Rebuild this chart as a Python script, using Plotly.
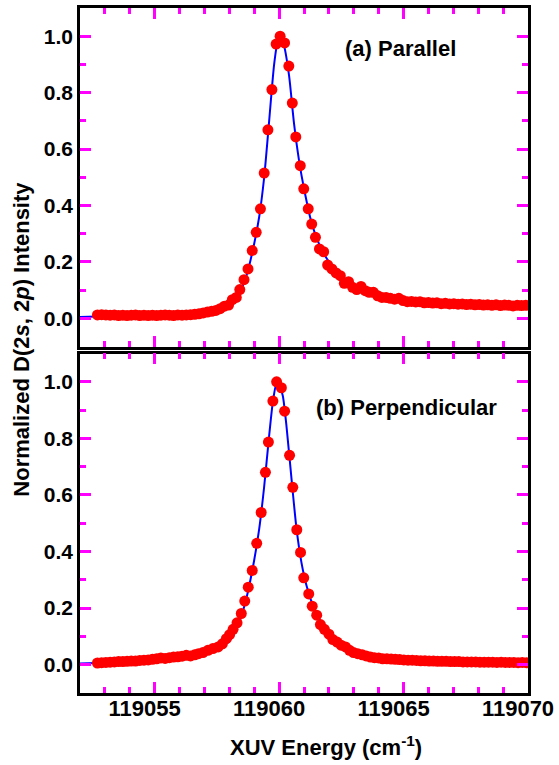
import plotly.graph_objects as go

# ---------------- data ----------------
# (a) Parallel : measured points
xa = [119052.70, 119052.87, 119053.04, 119053.21, 119053.38, 119053.55, 119053.72, 119053.89,
      119054.06, 119054.23, 119054.40, 119054.57, 119054.74, 119054.91, 119055.08, 119055.25,
      119055.42, 119055.59, 119055.76, 119055.93, 119056.10, 119056.27, 119056.44, 119056.61,
      119056.78, 119056.95, 119057.12, 119057.29, 119057.46, 119057.63, 119057.80, 119057.97,
      119058.12, 119058.28, 119058.42, 119058.59, 119058.75, 119058.92, 119059.08, 119059.25,
      119059.40, 119059.55, 119059.71, 119059.88, 119060.04, 119060.22, 119060.39, 119060.53,
      119060.67, 119060.85, 119060.99, 119061.17, 119061.31, 119061.46, 119061.62, 119061.79,
      119061.95, 119062.12, 119062.29, 119062.46, 119062.62, 119062.79, 119062.95, 119063.12,
      119063.29, 119063.46, 119063.62, 119063.79, 119063.96, 119064.13, 119064.30, 119064.47,
      119064.64, 119064.81, 119064.98, 119065.15, 119065.32, 119065.49, 119065.66, 119065.83,
      119066.00, 119066.17, 119066.34, 119066.51, 119066.68, 119066.85, 119067.02, 119067.19,
      119067.36, 119067.53, 119067.70, 119067.87, 119068.04, 119068.21, 119068.38, 119068.55,
      119068.72, 119068.89, 119069.06, 119069.23, 119069.40, 119069.57, 119069.74, 119069.91]
ya = [0.012, 0.013, 0.012, 0.011, 0.012, 0.010, 0.011, 0.010,
      0.011, 0.012, 0.010, 0.011, 0.010, 0.011, 0.010, 0.011,
      0.012, 0.011, 0.010, 0.012, 0.011, 0.012, 0.013, 0.014,
      0.016, 0.019, 0.022, 0.025, 0.028, 0.034, 0.043, 0.047,
      0.066, 0.074, 0.102, 0.137, 0.175, 0.240, 0.305, 0.388,
      0.515, 0.668, 0.811, 0.972, 1.000, 0.976, 0.894, 0.763,
      0.643, 0.541, 0.459, 0.388, 0.334, 0.287, 0.246, 0.236,
      0.189, 0.175, 0.161, 0.151, 0.124, 0.130, 0.110, 0.102,
      0.113, 0.098, 0.092, 0.092, 0.080, 0.074, 0.074, 0.071,
      0.068, 0.071, 0.063, 0.059, 0.060, 0.058, 0.059, 0.055,
      0.056, 0.054, 0.055, 0.052, 0.053, 0.051, 0.052, 0.050,
      0.051, 0.049, 0.050, 0.048, 0.049, 0.047, 0.048, 0.046,
      0.048, 0.045, 0.047, 0.046, 0.044, 0.046, 0.045, 0.046]

# (a) Parallel : fitted curve
fxa = [119052.0, 119053.0, 119054.0, 119055.0, 119056.0, 119056.5, 119057.0, 119057.5,
       119057.8, 119058.1, 119058.4, 119058.7, 119059.0, 119059.2, 119059.4, 119059.6,
       119059.8, 119059.95, 119060.05, 119060.2, 119060.4, 119060.6, 119060.8, 119061.0,
       119061.3, 119061.6, 119062.0, 119062.5, 119063.0, 119063.5, 119064.0, 119064.5,
       119065.0, 119066.0, 119067.0, 119068.0, 119069.0, 119070.0]
fya = [0.005, 0.007, 0.009, 0.011, 0.015, 0.018, 0.023, 0.031,
       0.040, 0.056, 0.090, 0.155, 0.265, 0.360, 0.500, 0.700,
       0.900, 0.985, 0.995, 0.965, 0.860, 0.690, 0.560, 0.460,
       0.340, 0.265, 0.200, 0.145, 0.115, 0.097, 0.083, 0.073,
       0.066, 0.059, 0.054, 0.050, 0.048, 0.046]

# (b) Perpendicular : measured points
xb = [119052.70, 119052.87, 119053.04, 119053.21, 119053.38, 119053.55, 119053.72, 119053.89,
      119054.06, 119054.23, 119054.40, 119054.57, 119054.74, 119054.91, 119055.08, 119055.25,
      119055.42, 119055.59, 119055.76, 119055.93, 119056.10, 119056.27, 119056.44, 119056.61,
      119056.76, 119056.94, 119057.14, 119057.34, 119057.55, 119057.72, 119057.88, 119058.01,
      119058.15, 119058.31, 119058.48, 119058.62, 119058.76, 119058.92, 119059.10, 119059.28,
      119059.45, 119059.57, 119059.75, 119059.90, 119060.09, 119060.22, 119060.42, 119060.55,
      119060.71, 119060.86, 119060.99, 119061.19, 119061.33, 119061.51, 119061.66, 119061.82,
      119062.00, 119062.16, 119062.33, 119062.49, 119062.67, 119062.83, 119062.99, 119063.16,
      119063.34, 119063.50, 119063.67, 119063.83, 119064.00, 119064.16, 119064.33, 119064.50,
      119064.67, 119064.84, 119065.01, 119065.18, 119065.35, 119065.52, 119065.69, 119065.86,
      119066.03, 119066.20, 119066.37, 119066.54, 119066.71, 119066.88, 119067.05, 119067.22,
      119067.39, 119067.56, 119067.73, 119067.90, 119068.07, 119068.24, 119068.41, 119068.58,
      119068.75, 119068.92, 119069.09, 119069.26, 119069.43, 119069.60, 119069.77, 119069.94]
yb = [0.006, 0.007, 0.008, 0.009, 0.010, 0.011, 0.011, 0.012,
      0.013, 0.013, 0.015, 0.016, 0.017, 0.019, 0.021, 0.024,
      0.022, 0.025, 0.027, 0.028, 0.030, 0.033, 0.031, 0.035,
      0.039, 0.043, 0.051, 0.057, 0.063, 0.074, 0.092, 0.106,
      0.125, 0.148, 0.181, 0.225, 0.274, 0.333, 0.429, 0.538,
      0.680, 0.787, 0.932, 1.000, 0.979, 0.896, 0.740, 0.627,
      0.477, 0.397, 0.307, 0.250, 0.207, 0.175, 0.142, 0.125,
      0.108, 0.089, 0.080, 0.069, 0.063, 0.051, 0.043, 0.039,
      0.035, 0.031, 0.027, 0.025, 0.024, 0.021, 0.021, 0.020,
      0.019, 0.018, 0.017, 0.016, 0.016, 0.015, 0.014, 0.014,
      0.013, 0.013, 0.012, 0.012, 0.012, 0.011, 0.011, 0.011,
      0.010, 0.010, 0.010, 0.010, 0.009, 0.009, 0.009, 0.009,
      0.008, 0.009, 0.008, 0.008, 0.008, 0.007, 0.008, 0.007]

# (b) Perpendicular : fitted curve
fxb = [119052.0, 119053.0, 119054.0, 119055.0, 119056.0, 119056.5, 119057.0, 119057.5,
       119057.8, 119058.1, 119058.4, 119058.7, 119059.0, 119059.2, 119059.4, 119059.6,
       119059.75, 119059.9, 119060.0, 119060.15, 119060.3, 119060.5, 119060.7, 119060.9,
       119061.1, 119061.4, 119061.7, 119062.0, 119062.5, 119063.0, 119063.5, 119064.0,
       119065.0, 119066.0, 119067.0, 119068.0, 119069.0, 119070.0]
fyb = [0.004, 0.007, 0.011, 0.016, 0.024, 0.030, 0.039, 0.053,
       0.068, 0.095, 0.150, 0.240, 0.370, 0.480, 0.630, 0.810,
       0.930, 0.995, 0.990, 0.950, 0.840, 0.655, 0.480, 0.360,
       0.280, 0.200, 0.148, 0.112, 0.068, 0.048, 0.034, 0.026,
       0.018, 0.013, 0.011, 0.009, 0.008, 0.007]

panel_labels = ["(a) Parallel", "(b) Perpendicular"]
x_title = "XUV Energy (cm<sup>-1</sup>)"
y_title = "Normalized D(2<i>s</i>, 2<i>p</i>) Intensity"

# ---------------- figure ----------------
RED = "#FF0000"
BLUE = "#0000FF"
TICK = "#ff00ff"   # temporary check colour

fig = go.Figure()
fig.add_trace(go.Scatter(x=fxa, y=fya, mode="lines", line=dict(color=BLUE, width=2, shape="spline", smoothing=0.6),
                         xaxis="x", yaxis="y", showlegend=False, hoverinfo="skip"))
fig.add_trace(go.Scatter(x=xa, y=ya, mode="markers", marker=dict(color=RED, size=11, line=dict(width=0)),
                         xaxis="x", yaxis="y", showlegend=False))
fig.add_trace(go.Scatter(x=fxb, y=fyb, mode="lines", line=dict(color=BLUE, width=2, shape="spline", smoothing=0.6),
                         xaxis="x2", yaxis="y2", showlegend=False, hoverinfo="skip"))
fig.add_trace(go.Scatter(x=xb, y=yb, mode="markers", marker=dict(color=RED, size=11, line=dict(width=0)),
                         xaxis="x2", yaxis="y2", showlegend=False))

FONT = dict(family="Liberation Sans, Arial, sans-serif", color="black", weight="bold")

common_x = dict(range=[119052, 119070], dtick=5, tickformat="d", ticks="inside", ticklen=11,
                tickwidth=2.5, tickcolor=TICK, showline=True, linewidth=2.5, linecolor="black", mirror="allticks",
                minor=dict(ticks="inside", ticklen=6, tickwidth=2.5, dtick=1, tickcolor=TICK),
                tickfont=dict(size=22, **FONT))
common_y = dict(range=[-0.1, 1.1], dtick=0.2, tickformat=".1f", ticks="inside", ticklen=11, tickwidth=2.5,
                tickcolor=TICK, showline=True, linewidth=2.5, linecolor="black", mirror="allticks",
                minor=dict(ticks="inside", ticklen=6, tickwidth=2.5, dtick=0.1, tickcolor=TICK),
                tickfont=dict(size=21, **FONT))

top_dom = [0.5058, 1.0]
bot_dom = [0.0, 0.4956]

fig.update_layout(
    width=559, height=765,
    margin=dict(l=80, r=30, t=5, b=72),
    paper_bgcolor="white", plot_bgcolor="white",
    font=dict(size=22, **FONT),
    xaxis=dict(anchor="y", domain=[0, 1], showticklabels=False, **common_x),
    yaxis=dict(anchor="x", domain=top_dom, **common_y),
    xaxis2=dict(anchor="y2", domain=[0, 1], showticklabels=True, ticklabelshift=-10, ticklabelstandoff=-6,
                **common_x),
    yaxis2=dict(anchor="x2", domain=bot_dom, **common_y),
    annotations=[
        dict(text=panel_labels[0], x=119064.89, y=0.957, xref="x", yref="y", showarrow=False,
             xanchor="center", yanchor="middle", font=dict(size=22, **FONT)),
        dict(text=panel_labels[1], x=119065.13, y=0.908, xref="x2", yref="y2", showarrow=False,
             xanchor="center", yanchor="middle", font=dict(size=22, **FONT)),
        dict(text=x_title, x=(327 - 80) / 449, y=-(746 - 693) / 688, xref="paper", yref="paper",
             showarrow=False, xanchor="center", yanchor="middle", font=dict(size=22, **FONT)),
        dict(text=y_title, x=-(80 - 21) / 449, y=(693 - 338) / 688, xref="paper", yref="paper",
             showarrow=False, xanchor="center", yanchor="middle", textangle=-90, font=dict(size=22, **FONT)),
    ],
)

fig.write_html("out.html", config={"displayModeBar": False},
               post_script="document.body.style.margin='0';document.body.style.padding='0';")
